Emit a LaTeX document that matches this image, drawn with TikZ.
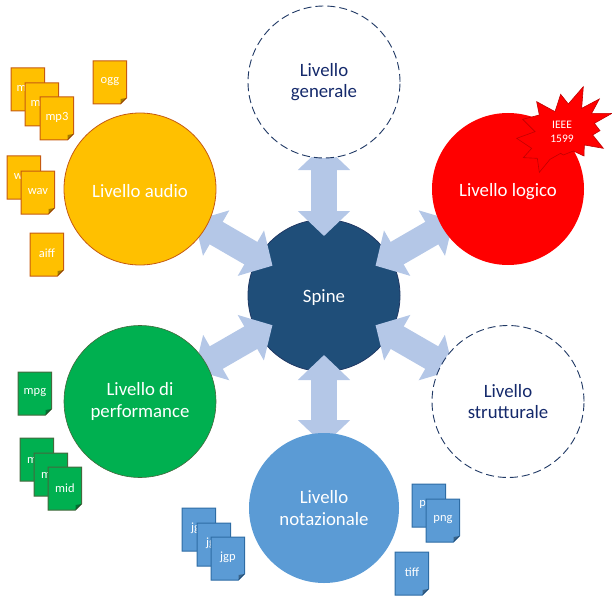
\documentclass[tikz,border=0pt]{standalone}
\usepackage{fontspec}
\setmainfont{Carlito}
\usetikzlibrary{arrows.meta}

\definecolor{audiofill}{HTML}{FFC000}
\definecolor{audioline}{HTML}{C55A11}
\definecolor{perffill}{HTML}{00B050}
\definecolor{perfline}{HTML}{44693D}
\definecolor{notefill}{HTML}{5B9BD5}
\definecolor{noteline}{HTML}{2E6CA4}
\definecolor{spinefill}{HTML}{1F4E79}
\definecolor{navyline}{HTML}{1F3864}
\definecolor{navytext}{HTML}{14296B}
\definecolor{arrowfill}{HTML}{B4C7E7}
\definecolor{logicline}{HTML}{C00000}

\pgfdeclarelayer{bottom}
\pgfdeclarelayer{middle}
\pgfsetlayers{bottom,middle,main}

\tikzset{
	level/.style={circle,minimum size=152pt,inner sep=0pt,align=center,font=\fontsize{18.8}{21.5}\selectfont,text=white,
		execute at begin node={\rule{0pt}{17.5pt}}},
	levelopen/.style={level,draw=navyline,fill=white,dash pattern=on 8pt off 4pt,line width=0.9pt,text=navytext},
	link/.style={line width=26pt,draw=arrowfill,shorten <=59.5pt,shorten >=63pt,
		{Triangle[length=25pt,width=51pt,fill=arrowfill]}-{Triangle[length=25pt,width=51pt,fill=arrowfill]}},
	filetext/.style={anchor=north west,minimum width=33.5pt,minimum height=41pt,inner sep=0pt,font=\fontsize{12.5}{14}\selectfont,text=white},
	audiofile/.style={fill=audiofill,draw=audioline},
	perffile/.style={fill=perffill,draw=perfline},
	notefile/.style={fill=notefill,draw=noteline}
}

% one file icon: style, name, corner, text
\newcommand{\fileicon}[4]{
	\draw[#1,line width=1pt,shift={#3}] (0,0) -- (33.5,0) -- (33.5,37) -- (27.5,43) -- (0,43) -- cycle;
	\fill[#1,draw=none,shift={#3},black,opacity=0.35] (33.5,37) -- (27.5,38) -- (27.5,43) -- cycle;
	\node[filetext] (#2) at #3 {#4};
}

\begin{document}
\begin{tikzpicture}[x=1pt,y=-1pt]
	\useasboundingbox (0,0) rectangle (612,596);

	% spine
	\begin{pgfonlayer}{bottom}
		\node[level,draw=navyline,fill=spinefill,line width=0.8pt] (spine) at (324,295.5) {Spine};
	\end{pgfonlayer}

	% levels
	\node[levelopen] (generale) at (324,82) {Livello\\generale};
	\node[level,fill=red] (logico) at (508,189) {Livello logico};
	\node[levelopen] (strutturale) at (508,401.5) {Livello\\strutturale};
	\node[level,fill=notefill,minimum size=150pt] (notazionale) at (324,508) {Livello\\notazionale};
	\node[level,fill=perffill,draw=perfline,line width=0.6pt] (performance) at (140,401.5) {Livello di\\performance};
	\node[level,fill=audiofill,draw=audioline,line width=0.8pt] (audio) at (140,189) {Livello audio};

	% arrows
	\begin{pgfonlayer}{middle}
		\draw[link] (spine.center) -- (generale.center);
		\draw[link] (spine.center) -- (logico.center);
		\draw[link] (spine.center) -- (strutturale.center);
		\draw[link] (spine.center) -- (notazionale.center);
		\draw[link] (spine.center) -- (performance.center);
		\draw[link] (spine.center) -- (audio.center);
	\end{pgfonlayer}

	% audio files
	\fileicon{audiofile}{mpa}{(11,68)}{mp3}
	\fileicon{audiofile}{mpb}{(25,83)}{mp3}
	\fileicon{audiofile}{mpc}{(40,97)}{mp3}
	\fileicon{audiofile}{ogg}{(93,61)}{ogg}
	\fileicon{audiofile}{wava}{(7,156)}{wav}
	\fileicon{audiofile}{wavb}{(21,171)}{wav}
	\fileicon{audiofile}{aiff}{(30,233)}{aiff}

	% performance files
	\fileicon{perffile}{mpg}{(18,372)}{mpg}
	\fileicon{perffile}{mida}{(20,438)}{mid}
	\fileicon{perffile}{midb}{(34,453)}{mid}
	\fileicon{perffile}{midc}{(48,467)}{mid}

	% notation files
	\fileicon{notefile}{jgpa}{(182,508)}{jgp}
	\fileicon{notefile}{jgpb}{(197,523)}{jgp}
	\fileicon{notefile}{jgpc}{(211,537)}{jgp}
	\fileicon{notefile}{pnga}{(412,484)}{png}
	\fileicon{notefile}{pngb}{(426,499)}{png}
	\fileicon{notefile}{tiff}{(395,552)}{tiff}

	% standard badge
	\draw[fill=red,draw=logicline,line width=0.6pt,shift={(500,80)},x=0.3333pt,y=-0.3333pt]
		(250,20) -- (245,85) -- (298,57) -- (275,100) -- (336,100) -- (283,130) -- (300,152) -- (278,165)
		-- (310,205) -- (253,195) -- (252,228) -- (220,213) -- (190,225) -- (182,220) -- (150,238) -- (118,277)
		-- (112,235) -- (70,233) -- (95,205) -- (50,175) -- (105,155) -- (68,118) -- (118,105) -- (110,65)
		-- (165,95) -- (182,43) -- (205,72) -- cycle;
	\node[align=center,text=white,font=\fontsize{11.5}{14.5}\selectfont] (ieee) at (562,132) {IEEE\\1599};
\end{tikzpicture}
\end{document}
